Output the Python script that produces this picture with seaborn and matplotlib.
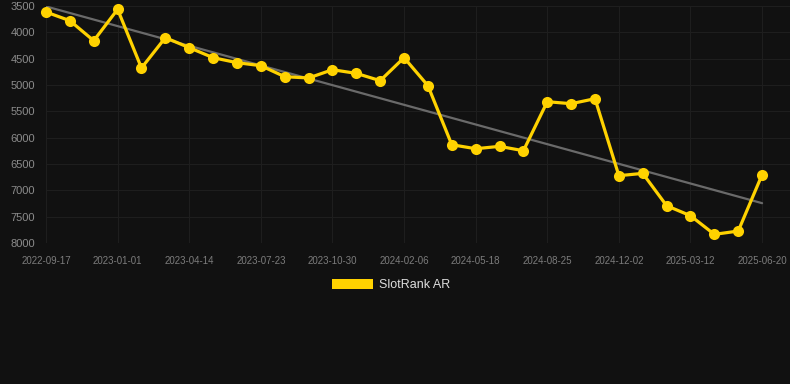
import numpy as np
import pandas as pd
import seaborn as sns
import matplotlib.pyplot as plt
from matplotlib.patches import Patch

# sample dates (every third one is labelled on the axis)
dates = ['2022-09-17', '2022-10-22', '2022-11-26', '2023-01-01', '2023-02-04',
         '2023-03-11', '2023-04-14', '2023-05-17', '2023-06-20', '2023-07-23',
         '2023-08-25', '2023-09-27', '2023-10-30', '2023-12-03', '2024-01-05',
         '2024-02-06', '2024-03-12', '2024-04-15', '2024-05-18', '2024-06-20',
         '2024-07-23', '2024-08-25', '2024-09-29', '2024-10-31', '2024-12-02',
         '2025-01-05', '2025-02-07', '2025-03-12', '2025-04-15', '2025-05-18',
         '2025-06-20']
rank = [3614, 3779, 4159, 3563, 4677, 4101, 4291, 4481, 4576, 4633,
        4842, 4867, 4710, 4779, 4918, 4481, 5013, 6134, 6210, 6165,
        6248, 5317, 5355, 5260, 6722, 6678, 7292, 7482, 7836, 7773,
        6703]
y_ticks = [3500, 4000, 4500, 5000, 5500, 6000, 6500, 7000, 7500, 8000]

df = pd.DataFrame({'date': dates, 'rank': rank})
df['idx'] = np.arange(len(df))

bg = '#111111'
grid = '#1e1e1e'
yellow = '#FFD200'

sns.set_style('dark')
plt.rcParams['font.family'] = ['Liberation Sans', 'DejaVu Sans']

fig = plt.figure(figsize=(7.9, 3.84), dpi=100, facecolor=bg)
ax = fig.add_axes([46 / 790, 141 / 384, 744 / 790, 237 / 384])
ax.set_facecolor(bg)

# trend line
sns.regplot(x='idx', y='rank', data=df, ax=ax, scatter=False, ci=None,
            line_kws={'color': '#6a6a6a', 'lw': 1.6, 'zorder': 2})

sns.lineplot(x='idx', y='rank', data=df, ax=ax, color=yellow, lw=2.3,
             marker='o', markersize=8, markeredgewidth=0, zorder=3,
             clip_on=False)

ax.set_ylim(8000, 3500)
ax.set_xlim(0, 744 / 23.87)
ax.set_yticks(y_ticks)
ax.set_yticklabels([str(v) for v in y_ticks])
ax.set_xticks(df['idx'][::3])
ax.set_xticklabels(df['date'][::3])

ax.grid(True, color=grid, lw=0.8)
ax.tick_params(axis='both', length=6, color=grid, width=0.8)
ax.tick_params(axis='y', labelsize=8, labelcolor='#8c8c8c', pad=2)
ax.tick_params(axis='x', labelsize=7, labelcolor='#7c7c7c', pad=3)
ax.set_xlabel('')
ax.set_ylabel('')
for s in ax.spines.values():
    s.set_visible(False)

handle = Patch(facecolor=yellow, edgecolor='none')
leg = fig.legend([handle], ['SlotRank AR'], loc='center',
                 bbox_to_anchor=(391 / 790, 1 - 285 / 384), frameon=False,
                 fontsize=9, handlelength=3.3, handleheight=0.9,
                 handletextpad=0.45)
for t in leg.get_texts():
    t.set_color('#dddddd')

fig.savefig('out.png', dpi=100, facecolor=bg)
